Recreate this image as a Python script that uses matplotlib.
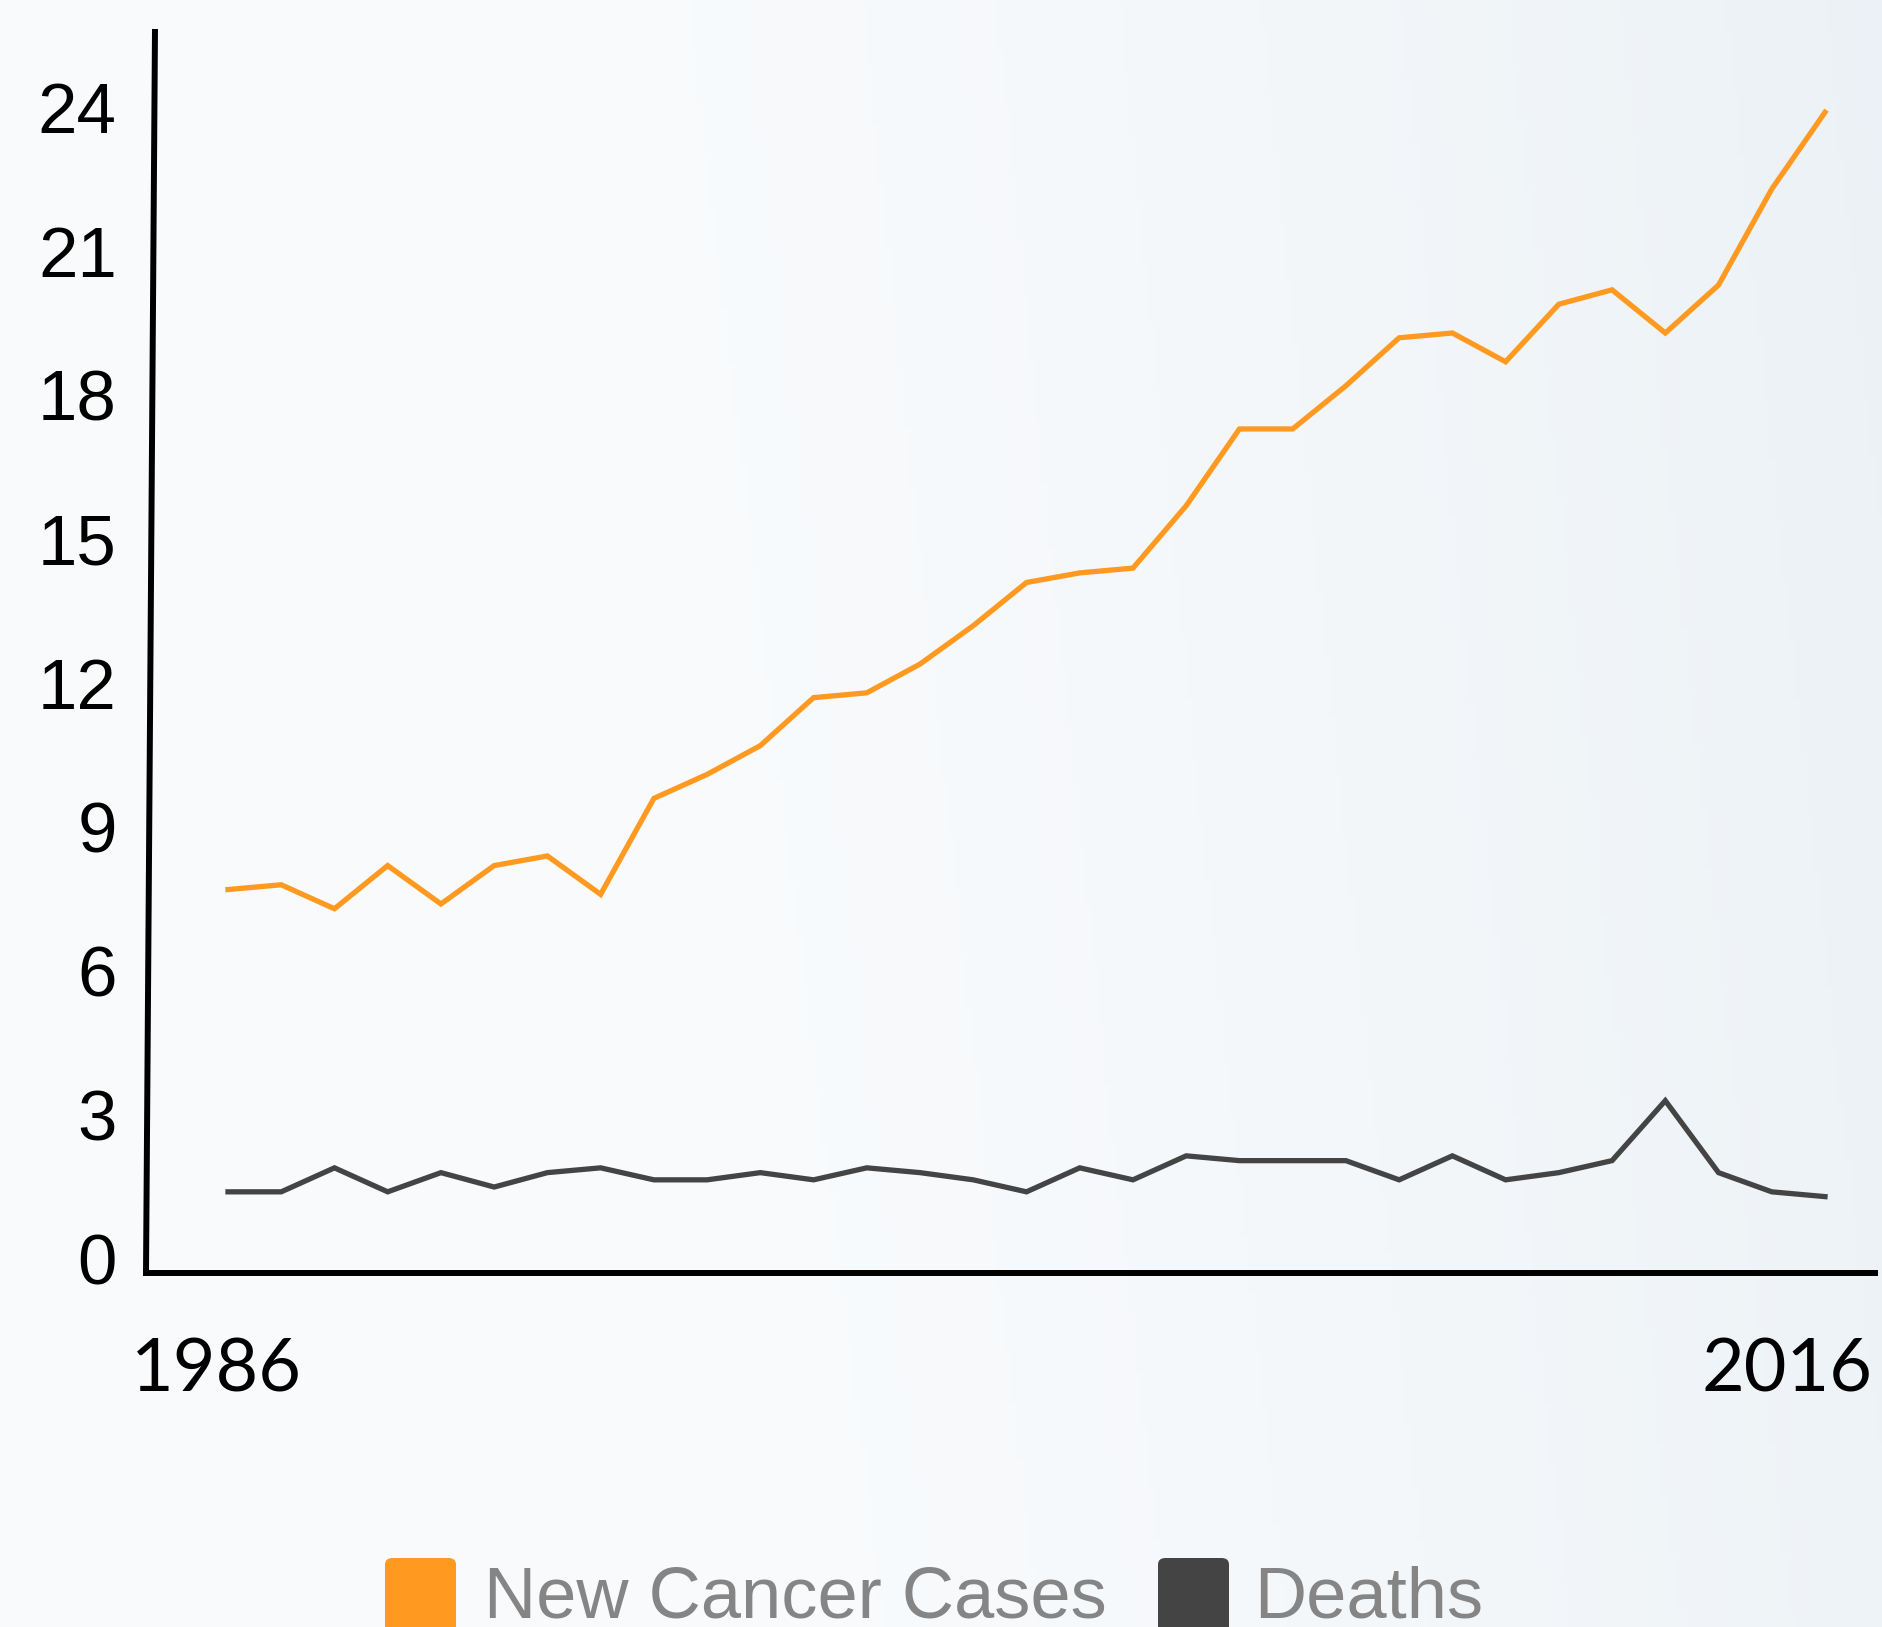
import numpy as np
import matplotlib
matplotlib.use("Agg")
import matplotlib.pyplot as plt
from matplotlib.patches import FancyBboxPatch

years = list(range(1986, 2017))
new_cases = [7.7, 7.8, 7.3, 8.2, 7.4, 8.2, 8.4, 7.6, 9.6, 10.1, 10.7,
             11.7, 11.8, 12.4, 13.2, 14.1, 14.3, 14.4, 15.7, 17.3, 17.3,
             18.2, 19.2, 19.3, 18.7, 19.9, 20.2, 19.3, 20.3, 22.3, 23.9]
deaths = [1.4, 1.4, 1.9, 1.4, 1.8, 1.5, 1.8, 1.9, 1.65, 1.65, 1.8,
          1.65, 1.9, 1.8, 1.65, 1.4, 1.9, 1.65, 2.15, 2.05, 2.05,
          2.05, 1.65, 2.15, 1.65, 1.8, 2.05, 3.3, 1.8, 1.4, 1.3]
y_ticks = [0, 3, 6, 9, 12, 15, 18, 21, 24]
x_labels = ["1986", "2016"]
series_names = ["New Cancer Cases", "Deaths"]
colors = ["#FF991F", "#444444"]

W, H = 1882, 1627
fig = plt.figure(figsize=(W / 100, H / 100), dpi=100)

# soft background gradient (white centre, bluish grey toward the right/top)
bg = fig.add_axes([0, 0, 1, 1], zorder=-10)
gx, gy = np.meshgrid(np.linspace(0, 1, 300), np.linspace(0, 1, 300))
t = np.clip(0.1 + 0.95 * np.clip(gx - 0.3, 0, None) ** 1.6 + 0.12 * (1 - gy) * gx, 0, 1)
c0 = np.array([0.985, 0.99, 0.995])
c1 = np.array([0.905, 0.933, 0.955])
img = c0[None, None, :] * (1 - t[..., None]) + c1[None, None, :] * t[..., None]
bg.imshow(img, aspect="auto", extent=[0, 1, 0, 1], origin="upper")
bg.axis("off")

def px(x0, y0):
    return x0 / W, 1 - y0 / H

left, top, right, bottom = 146, 29, 1875, 1273
ax = fig.add_axes([left / W, 1 - bottom / H, (right - left) / W, (bottom - top) / H])
ax.patch.set_alpha(0)

ax.plot(years, new_cases, color=colors[0], lw=3.8, solid_joinstyle="miter")
ax.plot(years, deaths, color=colors[1], lw=3.8, solid_joinstyle="miter")

ppy = (1825 - 228) / 30
ax.set_xlim(1986 - (228 - left) / ppy, 2016 + (right - 1825) / ppy)
ppu = (1259 - 107.5) / 24
ax.set_ylim((1259 - bottom) / ppu, (1259 - top) / ppu)

for s in ["top", "right", "left"]:
    ax.spines[s].set_visible(False)
ax.spines["bottom"].set_linewidth(4.3)
ax.spines["bottom"].set_color("black")
# slightly slanted y axis line
ax.plot([(155 - left) / (right - left), 0], [1, 0], transform=ax.transAxes,
        color="black", lw=4.3, clip_on=False, solid_capstyle="butt")

ax.set_yticks(y_ticks)
ax.set_yticklabels([str(v) for v in y_ticks], fontfamily="Liberation Sans",
                   fontsize=51, color="black")
ax.tick_params(axis="y", length=0, pad=21)
ax.set_xticks([])

w_ax = right - left
h_ax = bottom - top
ax.text((216 - left) / w_ax, -(1392 - bottom) / h_ax, x_labels[0], transform=ax.transAxes,
        ha="center", va="baseline", fontfamily="Lato", fontsize=53, color="black")
ax.text((1872 - left) / w_ax, -(1392 - bottom) / h_ax, x_labels[1], transform=ax.transAxes,
        ha="right", va="baseline", fontfamily="Lato", fontsize=53, color="black")

# legend at the bottom (partly cut off by the figure edge)
for x0, name, col, tx in [(385, series_names[0], colors[0], 484),
                          (1158, series_names[1], colors[1], 1254)]:
    bx, by = px(x0, 1640)
    box = FancyBboxPatch((bx, by), 71 / W, 82 / H, boxstyle="round,pad=0,rounding_size=0.004",
                         transform=fig.transFigure, facecolor=col, edgecolor="none")
    fig.patches.append(box)
    tx_, ty_ = px(tx, 1618)
    fig.text(tx_, ty_, name, fontfamily="Liberation Sans", fontsize=52, color="#858585",
             ha="left", va="baseline")

fig.savefig("out.png", dpi=100)
